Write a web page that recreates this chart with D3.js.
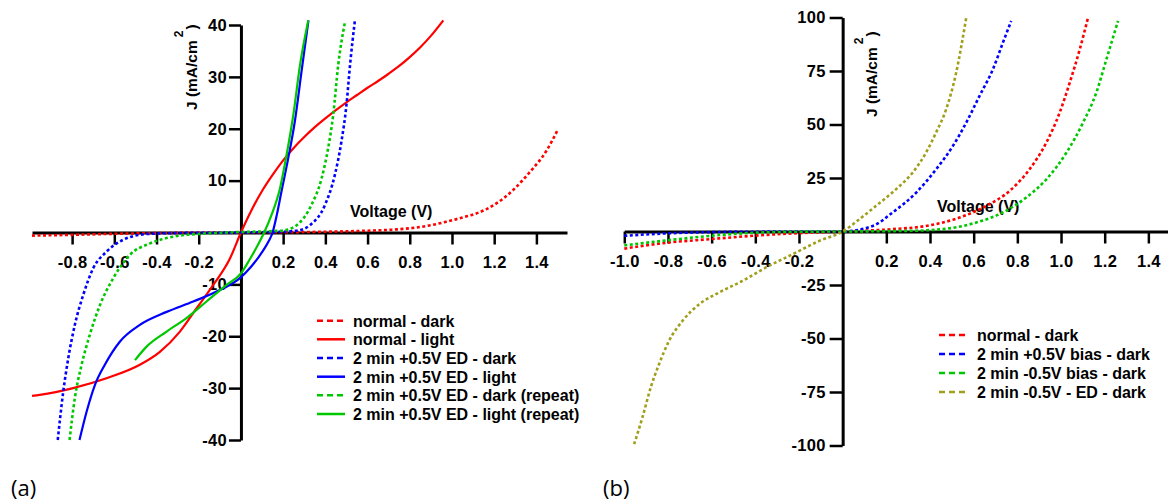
<!DOCTYPE html>
<html>
<head>
<meta charset="utf-8">
<script src="https://cdn.jsdelivr.net/npm/d3@7/dist/d3.min.js"></script>
<style>
  html, body { margin: 0; padding: 0; background: #fff; }
  svg { display: block; }
</style>
</head>
<body>
<svg id="chart" width="1168" height="502"></svg>
<script>
// ---------- Panel (a): J–V curves, [V (V), J (mA/cm²)] pairs ----------
const aNormalDark = [[-0.99,-0.6],[-0.8,-0.45],[-0.6,-0.25],[-0.4,-0.12],[-0.2,-0.05],[0,0],[0.2,0.05],[0.4,0.15],[0.6,0.35],[0.74,0.6],[0.9,1.4],[0.975,2.1],[1.05,2.9],[1.13,3.9],[1.21,5.6],[1.29,8.2],[1.37,11.7],[1.45,15.9],[1.50,19.7]];
const aNormalLight = [[-0.99,-31.5],[-0.953,-31.3],[-0.795,-30.0],[-0.637,-28.1],[-0.479,-25.5],[-0.384,-23.0],[-0.289,-19.1],[-0.21,-14.6],[-0.131,-10.1],[-0.052,-5.0],[0,0],[0.05,4.3],[0.1,8.0],[0.15,11.1],[0.2,13.9],[0.25,16.3],[0.3,18.4],[0.35,20.3],[0.4,22.0],[0.45,23.6],[0.5,25.1],[0.55,26.5],[0.6,27.9],[0.65,29.2],[0.7,30.6],[0.75,32.1],[0.8,33.8],[0.85,35.7],[0.9,37.9],[0.959,40.9]];
const aPlusDark = [[-0.868,-40],[-0.842,-30.7],[-0.818,-24.2],[-0.787,-17.8],[-0.747,-12.0],[-0.7,-6.9],[-0.637,-3.7],[-0.558,-1.4],[-0.447,-0.3],[-0.3,-0.1],[0,0],[0.2,0.15],[0.27,0.4],[0.327,1.4],[0.398,5.3],[0.445,11.1],[0.476,17.5],[0.5,24.6],[0.517,32.3],[0.54,40.9]];
const aPlusLight = [[-0.765,-40],[-0.731,-34.5],[-0.692,-29.4],[-0.645,-25.5],[-0.573,-21.0],[-0.479,-17.8],[-0.352,-15.3],[-0.226,-13.3],[-0.1,-11.1],[-0.005,-8.8],[0.05,-6.5],[0.1,-3.8],[0.13,-1.8],[0.15,0],[0.17,3.4],[0.192,7.9],[0.224,14.3],[0.255,21.3],[0.287,31.0],[0.32,40.9]];
const aRepeatDark = [[-0.812,-40],[-0.787,-31.9],[-0.755,-25.5],[-0.716,-19.7],[-0.668,-14.0],[-0.605,-8.8],[-0.526,-4.3],[-0.431,-2.1],[-0.32,-0.8],[-0.17,-0.2],[0,0.1],[0.1,0.2],[0.2,0.4],[0.264,1.4],[0.334,5.3],[0.382,10.4],[0.413,16.2],[0.437,22.6],[0.461,32.3],[0.493,40.6]];
const aRepeatLight = [[-0.502,-24.6],[-0.447,-22.0],[-0.352,-19.1],[-0.258,-16.5],[-0.163,-13.3],[-0.068,-10.1],[0,-7.9],[0.04,-5.3],[0.075,-2.8],[0.11,0],[0.145,3.4],[0.185,8.5],[0.216,14.9],[0.248,22.6],[0.28,32.3],[0.319,40.9]];

const aXTicks = [-0.8,-0.6,-0.4,-0.2,0.2,0.4,0.6,0.8,1.0,1.2,1.4];
const aYTicks = [-40,-30,-20,-10,10,20,30,40];
const aLabels = ["normal - dark","normal - light","2 min +0.5V ED - dark","2 min +0.5V ED - light","2 min +0.5V ED - dark (repeat)","2 min +0.5V ED - light (repeat)"];

// ---------- Panel (b): dark J–V curves ----------
const bNormalDark = [[-1.0,-8.0],[-0.81,-5.3],[-0.61,-3.6],[-0.41,-2.0],[-0.21,-0.8],[0,0],[0.229,1.1],[0.382,2.6],[0.535,6.5],[0.658,12.0],[0.765,19.0],[0.856,29.1],[0.933,41.6],[0.994,55.6],[1.04,69.6],[1.086,85.2],[1.124,100]];
const bPlusBias = [[-1.0,-2.0],[-0.81,-0.9],[-0.61,-0.3],[-0.4,-0.1],[0,0],[0.138,2.6],[0.229,8.9],[0.337,18.2],[0.428,29.1],[0.505,40.0],[0.566,50.9],[0.627,63.4],[0.688,75.8],[0.734,88.3],[0.772,98.4]];
const bMinusBias = [[-1.0,-6.5],[-0.81,-4.2],[-0.61,-2.1],[-0.41,-0.6],[-0.2,-0.1],[0,0],[0.3,0.3],[0.459,1.1],[0.612,4.2],[0.734,8.9],[0.841,15.9],[0.933,24.4],[1.025,36.9],[1.101,50.9],[1.162,65.0],[1.208,80.5],[1.261,98.4]];
const bMinusED = [[-0.955,-99.4],[-0.917,-86.9],[-0.879,-72.9],[-0.841,-62.0],[-0.795,-51.1],[-0.734,-41.8],[-0.657,-34.0],[-0.566,-28.5],[-0.459,-23.1],[-0.351,-16.8],[-0.229,-10.6],[-0.107,-4.4],[0,0],[0.076,5.7],[0.153,12.0],[0.245,19.8],[0.321,27.6],[0.382,36.9],[0.428,46.3],[0.474,57.1],[0.52,74.3],[0.566,100]];

const bXTicks = [-1.0,-0.8,-0.6,-0.4,-0.2,0.2,0.4,0.6,0.8,1.0,1.2,1.4];
const bYTicks = [-100,-75,-50,-25,25,50,75,100];
const bLabels = ["normal - dark","2 min +0.5V bias - dark","2 min -0.5V bias - dark","2 min -0.5V - ED - dark"];

// ---------- styles ----------
const RED = "#ff0000", BLUE = "#0000ff", GREEN = "#00c800", OLIVE = "#a09f1c";
const DOT = "3,2.5";
const SANS = "'Liberation Sans', Arial, sans-serif";

const svg = d3.select("#chart");
svg.append("rect").attr("width",1168).attr("height",502).attr("fill","#fff");

function boldText(sel, size) {
  return sel.style("font-family", SANS).style("font-weight","bold")
    .style("font-size", size + "px").attr("fill","#000");
}

function drawAxes(g, x, y, xTicks, yTicks, yTickSize, yPad) {
  const xa = g.append("g").attr("transform", `translate(0,${y(0)})`)
    .call(d3.axisBottom(x).tickValues(xTicks).tickSize(12).tickSizeOuter(0).tickPadding(12)
      .tickFormat(d => d.toFixed(1)));
  const ya = g.append("g").attr("transform", `translate(${x(0)},0)`)
    .call(d3.axisLeft(y).tickValues(yTicks).tickSize(yTickSize).tickSizeOuter(0).tickPadding(yPad)
      .tickFormat(d => String(d)));
  [xa, ya].forEach(a => {
    a.select(".domain").attr("stroke","#000").attr("stroke-width",3);
    a.selectAll(".tick line").attr("stroke","#000").attr("stroke-width",2.5);
    boldText(a.selectAll(".tick text"), 16.5).style("letter-spacing","0.3px");
  });
}

function yLabel(g, bx, by) {
  const t = boldText(g.append("text").attr("transform", `translate(${bx},${by}) rotate(-90)`), 15.5);
  t.append("tspan").text("J (mA/cm");
  t.append("tspan").attr("dx",3).attr("dy",-14).style("font-size","12px").text("2");
  t.append("tspan").attr("dx",1).attr("dy",14).text(")");
}

function drawSeries(g, x, y, data, color, dashed, width) {
  const line = d3.line().x(d => x(d[0])).y(d => y(d[1])).curve(d3.curveMonotoneX);
  g.append("path").datum(data).attr("d", line)
    .attr("fill","none").attr("stroke",color).attr("stroke-width",width)
    .attr("stroke-dasharray", dashed ? DOT : null);
}

function drawLegend(g, x0, x1, tx, ys, items) {
  items.forEach((it, i) => {
    g.append("line").attr("x1",x0).attr("x2",x1).attr("y1",ys[i]).attr("y2",ys[i])
      .attr("stroke",it.color).attr("stroke-width",2.5)
      .attr("stroke-dasharray", it.dashed ? "6,4" : null);
    boldText(g.append("text").attr("x",tx).attr("y",ys[i]+5.8), 16).text(it.label);
  });
}

function panelTag(g, x, label) {
  g.append("text").attr("x",x).attr("y",495.5)
    .style("font-family","'Open Sans', 'Noto Sans', sans-serif")
    .style("font-size","22px").attr("fill","#000").text(label);
}

// ---------- Panel (a) ----------
{
  const g = svg.append("g");
  const x = d3.scaleLinear().domain([-0.99, 1.545]).range([32, 567]);
  const y = d3.scaleLinear().domain([-40, 40]).range([440, 25]);
  drawAxes(g, x, y, aXTicks, aYTicks, 12, 2);
  yLabel(g, 197, 110);
  boldText(g.append("text").attr("x",350).attr("y",216.5), 16).text("Voltage (V)");

  const series = [
    {data:aNormalDark, color:RED, dashed:true},
    {data:aNormalLight, color:RED, dashed:false},
    {data:aPlusDark, color:BLUE, dashed:true},
    {data:aPlusLight, color:BLUE, dashed:false},
    {data:aRepeatDark, color:GREEN, dashed:true},
    {data:aRepeatLight, color:GREEN, dashed:false}
  ];
  series.forEach(s => drawSeries(g, x, y, s.data, s.color, s.dashed, s.dashed ? 2.6 : 2.2));
  drawLegend(g, 317, 345, 353, [320.7,339.3,358,376.7,395.3,414],
    series.map((s,i) => ({color:s.color, dashed:s.dashed, label:aLabels[i]})));
  panelTag(g, 11, "(a)");
}

// ---------- Panel (b) ----------
{
  const g = svg.append("g");
  const x = d3.scaleLinear().domain([-1.0, 1.5]).range([624.3, 1170.2]);
  const y = d3.scaleLinear().domain([-100, 100]).range([445.5, 17.5]);
  drawAxes(g, x, y, bXTicks, bYTicks, 13, 4);
  yLabel(g, 876.5, 117);
  boldText(g.append("text").attr("x",937).attr("y",212), 16).text("Voltage (V)");

  const series = [
    {data:bNormalDark, color:RED},
    {data:bPlusBias, color:BLUE},
    {data:bMinusBias, color:GREEN},
    {data:bMinusED, color:OLIVE}
  ];
  series.forEach(s => drawSeries(g, x, y, s.data, s.color, true, 2.6));
  drawLegend(g, 939, 965, 977, [335,354,373,392],
    series.map((s,i) => ({color:s.color, dashed:true, label:bLabels[i]})));
  panelTag(g, 603, "(b)");
}
</script>
</body>
</html>
